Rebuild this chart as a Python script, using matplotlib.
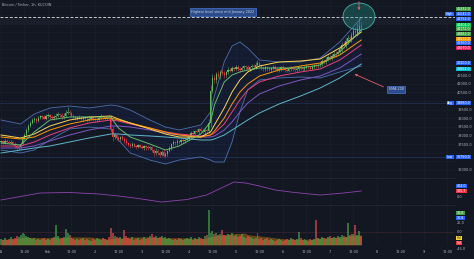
import numpy as np
import pandas as pd
import matplotlib
matplotlib.use("Agg")
import matplotlib.pyplot as plt
from matplotlib.patches import Ellipse
from matplotlib.transforms import blended_transform_factory

# ---------------- data ----------------
title = "Bitcoin / Tether, 1h, KUCOIN"
first_open = 37600
closes = [
    37650, 37580, 37700, 37620, 37560, 37640, 37520, 37380, 37250, 37330,
    37520, 37800, 38050, 38300, 38560, 38720, 38880, 38950, 38860, 39010,
    39120, 39050, 38980, 39100, 39200, 39080, 38990, 39050, 39150, 39250,
    39180, 39060, 39120, 39300, 39350, 39280, 39150, 39050, 38980, 39080,
    39020, 38940, 39040, 38970, 38900, 38980, 39060, 38950, 38870, 38920,
    39010, 39100, 39050, 38990, 39060, 39000, 38350, 37900, 38000, 37850,
    37780, 37900, 37820, 37700, 37560, 37450, 37380, 37480, 37400, 37330,
    37420, 37350, 37290, 37380, 37310, 37250, 37300, 37150, 36980, 37100,
    37000, 36880, 37050, 36820, 36950, 37100, 37250, 37480, 37620, 37550,
    37680, 37600, 37720, 37650, 37760, 37820, 37900, 38150, 38080, 38260,
    38200, 38350, 38280, 38200, 38320, 38250, 38700, 40600, 41350, 41200,
    41550, 41420, 41700, 41600, 41480, 41650, 41820, 41750, 41900, 41850,
    41980, 41880, 41800, 41920, 42010, 41940, 41860, 41950, 42050, 41980,
    42100, 42200, 42050, 41920, 41850, 41940, 41880, 41800, 41900, 41980,
    41870, 41780, 41860, 41950, 41900, 41820, 41750, 41840, 41930, 41860,
    41790, 41880, 41960, 41900, 41830, 41920, 42010, 41950, 41880, 41970,
    42060, 42000, 42080, 42150, 42300, 42250, 42400, 42550, 42480, 42620,
    42750, 42700, 42850, 43000, 43250, 43180, 43450, 43650, 43580, 43820,
    44050, 43950, 44200, 44350, 44250,
]
wick_up = [
    80, 60, 120, 70, 90, 110, 60, 80, 50, 100,
    90, 120, 80, 140, 100, 90, 130, 110, 80, 120,
    90, 70, 110, 130, 80, 60, 100, 120, 140, 90,
    70, 110, 160, 200, 300, 120, 80, 100, 90, 70,
    110, 80, 60, 100, 90, 120, 70, 80, 110, 90,
    100, 130, 80, 70, 90, 110, 200, 180, 120, 90,
    110, 80, 100, 90, 130, 70, 90, 110, 80, 60,
    100, 80, 120, 90, 70, 110, 60, 90, 80, 150,
    100, 120, 90, 140, 110, 80, 130, 90, 100, 80,
    120, 70, 90, 110, 80, 130, 100, 90, 140, 80,
    110, 90, 120, 80, 100, 90, 250, 300, 200, 150,
    120, 180, 90, 140, 110, 80, 130, 100, 120, 90,
    110, 80, 100, 130, 90, 70, 120, 100, 80, 110,
    150, 200, 120, 90, 80, 110, 70, 100, 90, 120,
    80, 100, 90, 70, 110, 80, 120, 90, 100, 80,
    110, 90, 70, 120, 80, 100, 130, 90, 80, 110,
    100, 120, 90, 130, 110, 150, 120, 100, 140, 110,
    150, 120, 130, 200, 160, 140, 180, 150, 120, 170,
    200, 250, 300, 520, 200,
]
wick_dn = [
    70, 90, 60, 110, 80, 70, 100, 120, 140, 80,
    100, 60, 90, 70, 110, 80, 60, 90, 120, 70,
    80, 110, 90, 60, 100, 120, 80, 70, 90, 110,
    90, 80, 100, 70, 60, 110, 90, 120, 80, 100,
    70, 90, 110, 80, 100, 60, 90, 120, 80, 70,
    90, 70, 100, 110, 80, 90, 150, 200, 100, 120,
    90, 110, 80, 120, 100, 90, 110, 80, 100, 120,
    80, 100, 90, 110, 130, 80, 100, 120, 200, 90,
    110, 130, 80, 70, 100, 120, 90, 80, 110, 90,
    80, 100, 120, 90, 80, 70, 100, 110, 90, 120,
    80, 100, 90, 110, 120, 90, 100, 200, 150, 180,
    140, 100, 120, 90, 130, 110, 80, 100, 90, 110,
    80, 120, 100, 90, 110, 130, 80, 100, 90, 120,
    100, 80, 110, 130, 90, 100, 120, 80, 110, 90,
    120, 90, 80, 100, 110, 130, 90, 80, 100, 120,
    90, 100, 120, 80, 110, 90, 80, 120, 100, 90,
    110, 80, 100, 90, 120, 100, 130, 90, 110, 120,
    100, 130, 90, 120, 150, 110, 130, 160, 120, 140,
    150, 180, 160, 200, 220,
]
volume = [
    6, 5, 7, 5, 6, 8, 6, 7, 9, 8,
    10, 12, 11, 9, 8, 7, 6, 7, 5, 6,
    5, 6, 7, 5, 6, 5, 7, 8, 20, 9,
    6, 7, 8, 16, 12, 10, 7, 6, 5, 6,
    5, 6, 7, 5, 6, 5, 4, 6, 5, 7,
    6, 5, 7, 6, 5, 8, 17, 12, 9, 8,
    7, 8, 6, 15, 9, 7, 6, 8, 5, 6,
    7, 5, 6, 8, 6, 7, 9, 11, 8, 9,
    7, 8, 9, 7, 8, 6, 7, 6, 5, 6,
    5, 7, 6, 5, 6, 7, 6, 8, 5, 7,
    6, 8, 7, 6, 9, 10, 35, 12, 14, 11,
    12, 10, 11, 15, 10, 9, 11, 10, 12, 9,
    10, 8, 9, 11, 8, 7, 9, 8, 7, 6,
    7, 12, 6, 7, 5, 6, 7, 5, 6, 5,
    4, 5, 6, 5, 4, 5, 6, 5, 7, 6,
    5, 6, 13, 7, 5, 6, 5, 4, 6, 5,
    6, 25, 7, 6, 8, 7, 6, 8, 9, 7,
    8, 7, 9, 8, 10, 9, 8, 22, 10, 11,
    11, 20, 10, 14, 9,
]

# indicator lines sampled from the chart (hour index -> price)
line_hours = [0, 10, 17, 25, 35, 45, 56, 60, 66, 76, 84, 91, 102, 107, 109,
              114, 118, 122, 126, 132, 142, 153, 163, 173, 184]
ma_green = [37560, 37444, 38198, 38894, 39068, 39068, 39068, 38430, 37908, 37502,
            37154, 37386, 38082, 38778, 39764, 41098, 41504, 41678, 41794, 41910,
            41910, 41910, 42084, 42838, 44114]
ma_yellow = [38024, 37850, 38082, 38546, 38894, 39068, 39126, 38952, 38720, 38372,
             38082, 37908, 37908, 38198, 38604, 39590, 40518, 41214, 41678, 42026,
             42258, 42316, 42432, 43070, 43998]
ma_orange = [37908, 37792, 37908, 38314, 38662, 38894, 39010, 38894, 38720, 38430,
             38198, 38024, 37908, 38024, 38256, 39010, 39822, 40518, 40982, 41446,
             41794, 42026, 42200, 42664, 43534]
ma_red = [37386, 37386, 37618, 38024, 38430, 38720, 38894, 38836, 38662, 38430,
          38198, 38082, 37966, 38024, 38140, 38662, 39358, 40054, 40634, 41098,
          41446, 41678, 41852, 42374, 43244]
ma_purple = [37270, 37270, 37386, 37676, 38024, 38314, 38546, 38546, 38488, 38314,
             38140, 38024, 37908, 37908, 37966, 38314, 38778, 39358, 39880, 40402,
             40866, 41214, 41446, 41910, 42722]
ma_teal = [36980, 37154, 37270, 37386, 37618, 37850, 38082, 38082, 38024, 37966,
           37908, 37850, 37734, 37734, 37792, 38024, 38314, 38604, 38894, 39300,
           39822, 40286, 40750, 41330, 42142]
bb_upper = [38894, 38662, 39242, 39590, 39706, 39590, 39764, 39706, 39474, 38894,
            38488, 38314, 38604, 39358, 40286, 42258, 43186, 43418, 43070, 42374,
            42258, 42258, 42490, 43418, 44810]
bb_lower = [37154, 36980, 37154, 37734, 38372, 38488, 38372, 37734, 36980, 36574,
            36342, 36574, 36748, 36574, 36458, 36458, 37618, 39358, 40634, 41214,
            41330, 41388, 41330, 41678, 42026]

osc_hours = [0, 10, 20, 35, 50, 60, 70, 82, 95, 105, 112, 119, 125, 132, 140, 150, 163, 175, 184]
osc_vals = [100, 170, 240, 250, 220, 180, 130, 60, 110, 200, 330, 460, 440, 380, 300, 250, 200, 240, 280]

time_tick_hours = [0, 12, 24, 36, 48, 60, 72, 84, 96, 108, 120, 132, 144, 156, 168, 180, 192, 204, 216, 228]
time_tick_labels = ["31", "12:00", "Feb", "12:00", "2", "12:00", "3", "12:00", "4", "12:00",
                    "5", "12:00", "6", "12:00", "7", "12:00", "8", "12:00", "9", "12:00"]
price_ticks = [36000, 36500, 37000, 37500, 38000, 38500, 39000, 39500, 40000, 40500,
               41000, 41500, 42000, 42500, 43000, 43500, 44000, 44500, 45000, 45500]

high_price = 44870
avg_price = 39880
low_price = 36750
tag_prices = [45332, 45042, 44752, 44404, 44172, 43882, 43592, 43360, 43070, 42200, 41852]
tag_colors = ["#43a047", "#2962ff", "#2962ff", "#00c853", "#43a047", "#43a047",
              "#ff9800", "#2962ff", "#e91e63", "#2962ff", "#00bcd4"]

# ---------------- layout helpers ----------------
W, H = 474, 259
BG = "#131722"
GRID = "#1b1f2b"
TXT = "#b2b5be"
FS = 2.5
TFS = 2.3


def rect(x0, y0, x1, y1):
    return [x0 / W, 1 - y1 / H, (x1 - x0) / W, (y1 - y0) / H]


def hx(x):  # pixel x -> hour
    return (x - 1) / 1.958


def py(y):  # pixel y -> price in main pane
    return 45854 - 58 * y


fig = plt.figure(figsize=(W / 100, H / 100), dpi=100, facecolor=BG)
ax = fig.add_axes(rect(0, 0, 455, 178))
ax_ind = fig.add_axes(rect(0, 178, 455, 205), sharex=ax)
ax_vol = fig.add_axes(rect(0, 205, 455, 245), sharex=ax)

for a in (ax, ax_ind, ax_vol):
    a.set_facecolor(BG)
    for s in a.spines.values():
        s.set_visible(False)
    for th in time_tick_hours:
        a.axvline(th, color=GRID, lw=0.5, zorder=0)
ax.set_xlim(hx(0), hx(455))
ax.set_ylim(py(178), py(0))
ax_ind.set_ylim(0, 540)
ax_vol.set_ylim(0, 40)
for a in (ax_ind, ax_vol):
    a.spines["top"].set_visible(True)
    a.spines["top"].set_color("#262a36")
    a.spines["top"].set_linewidth(0.5)

# price axis (tick labels hidden where a coloured tag covers them)
occupied = tag_prices + [45042, avg_price, low_price]
ax.yaxis.tick_right()
ax.set_yticks(price_ticks)
ax.set_yticklabels([f"{p:.1f}" if min(abs(p - q) for q in occupied) > 330 else ""
                    for p in price_ticks])
ax.tick_params(axis="y", length=0, pad=1.6, labelsize=FS, labelcolor=TXT)
for p in price_ticks:
    ax.axhline(p, color=GRID, lw=0.5, zorder=0)
ax.tick_params(axis="x", length=0, labelbottom=False)
ax_ind.tick_params(axis="both", length=0, labelbottom=False, labelleft=False)
ax_vol.tick_params(axis="y", length=0, labelleft=False)
ax_vol.set_xticks(time_tick_hours)
ax_vol.set_xticklabels(time_tick_labels)
ax_vol.tick_params(axis="x", length=0, pad=3.3, labelsize=FS, labelcolor=TXT)

# ---------------- main pane ----------------
hours = np.arange(len(closes))
c = np.array(closes, float)
o = np.concatenate([[first_open], c[:-1]])
hi = np.maximum(o, c) + np.array(wick_up)
lo = np.minimum(o, c) - np.array(wick_dn)
up = c >= o
ccol = np.where(up, "#5cb85c", "#f23645")

ax.axhspan(py(25), py(18), color="#1a1e2b", lw=0, zorder=0.5)
ax.axhline(high_price, color="#c8cad0", lw=0.7, dashes=(3, 1.8), zorder=1)
ax.axhline(avg_price, color="#3a5ca8", lw=0.4, alpha=0.5, zorder=1)
ax.axhline(low_price, color="#3a5ca8", lw=0.4, alpha=0.6, zorder=1)

ax.fill_between(line_hours, bb_lower, bb_upper, color="#2962ff", alpha=0.07, lw=0, zorder=1)
ax.plot(line_hours, bb_upper, color="#4f6fae", lw=0.6, zorder=2)
ax.plot(line_hours, bb_lower, color="#4f6fae", lw=0.6, zorder=2)

ax.vlines(hours, lo, hi, colors=ccol, lw=0.4, zorder=3)
ax.bar(hours, np.maximum(np.abs(c - o), 15), bottom=np.minimum(o, c), width=0.65,
       color=ccol, lw=0, zorder=3)

ax.plot(line_hours, ma_teal, color="#5fb6c8", lw=0.7, zorder=4)
ax.plot(line_hours, ma_purple, color="#7e57c2", lw=0.7, zorder=4)
ax.plot(line_hours, ma_red, color="#ec407a", lw=0.7, zorder=4)
ax.plot(line_hours, ma_orange, color="#ff9800", lw=0.7, zorder=4)
ax.plot(line_hours, ma_yellow, color="#ffd54f", lw=0.7, zorder=4)
ax.plot(line_hours, ma_green, color="#66bb6a", lw=0.7, zorder=4)

# annotations
ax.add_patch(Ellipse((hx(359), py(16.5)), width=32 / 1.958, height=27 * 58,
                     fc=(0.15, 0.6, 0.55, 0.35), ec=(0.3, 0.75, 0.7, 0.9), lw=0.6, zorder=5))
ax.annotate("", xy=(hx(359), py(13)), xytext=(hx(359), py(-1)),
            arrowprops=dict(arrowstyle="-|>", color="#e35d6a", lw=0.6, mutation_scale=3),
            annotation_clip=False, zorder=6)
ax.annotate("", xy=(hx(352), py(73)), xytext=(hx(386), py(88)),
            arrowprops=dict(arrowstyle="-|>", color="#e35d6a", lw=0.6, mutation_scale=3),
            zorder=6)
ax.text(hx(223), py(12), "Highest level since mid January 2022", fontsize=2.4,
        color="#d1d4dc", ha="center", va="center", zorder=7,
        bbox=dict(boxstyle="square,pad=0.5", fc="#2d4c8c", ec="#4a78d0", lw=0.5))
ax.text(hx(396), py(89.5), "EMA 200", fontsize=2.4, color="#d1d4dc",
        ha="center", va="center", zorder=7,
        bbox=dict(boxstyle="square,pad=0.5", fc="#2d4c8c", ec="#4a78d0", lw=0.5))

fig.text(2 / W, 1 - 5 / H, title, fontsize=FS, color=TXT, va="center", ha="left")


def tag(a, y, text, fc, tc="white", x=1.004, ha="left"):
    a.text(x, y, text, transform=blended_transform_factory(a.transAxes, a.transData),
           fontsize=TFS, color=tc, ha=ha, va="center", clip_on=False, zorder=10,
           bbox=dict(boxstyle="square,pad=0.12", fc=fc, ec="none"))


for p, col in zip(tag_prices, tag_colors):
    tag(ax, p, f"{p:.1f}", col)
tag(ax, 45042, "High", "#2962ff", x=0.996, ha="right")
tag(ax, avg_price, f"{avg_price:.1f}", "#2962ff")
tag(ax, avg_price, "Avg", "#2962ff", x=0.996, ha="right")
tag(ax, low_price, f"{low_price:.1f}", "#2962ff")
tag(ax, low_price, "Low", "#2962ff", x=0.996, ha="right")

# ---------------- indicator pane ----------------
ax_ind.plot(osc_hours, osc_vals, color="#8e44ad", lw=0.6, zorder=3)
tag(ax_ind, 380, "404.0", "#2962ff")
tag(ax_ind, 280, "305.7", "#f23645")
tri = blended_transform_factory(ax_ind.transAxes, ax_ind.transData)
ax_ind.text(1.004, 170, "0.0", transform=tri, fontsize=FS, color=TXT, ha="left",
            va="center", clip_on=False)

# ---------------- volume pane ----------------
vol = np.array(volume, float)
vol_ma = pd.Series(vol).rolling(20, min_periods=1).mean()
ax_vol.fill_between(hours, 0, vol_ma, color="#ff9800", alpha=0.35, lw=0, zorder=1)
vcol = np.where(up, "#4caf50", "#ef5350")
ax_vol.bar(hours, vol, width=1.0, color=vcol, alpha=0.6, lw=0, zorder=2)
ax_vol.axhline(13, color="#3a2530", lw=0.5, zorder=0.5)
tag(ax_vol, 32, "30.8", "#43a047")
tag(ax_vol, 27, "30.8", "#2962ff")
tr = blended_transform_factory(ax_vol.transAxes, ax_vol.transData)
ax_vol.text(1.004, 21.5, "25.0", transform=tr, fontsize=FS, color=TXT, ha="left", va="center", clip_on=False)
ax_vol.text(1.004, 13, "0.0", transform=tr, fontsize=FS, color=TXT, ha="left", va="center", clip_on=False)
tag(ax_vol, 7, "Vol", "#fdd835", tc="#131722")
tag(ax_vol, 2, "Vol", "#f23645")
ax_vol.text(1.004, -4.5, "-45.0", transform=tr, fontsize=FS, color=TXT, ha="left", va="center", clip_on=False)

fig.savefig("out.png", dpi=100, facecolor=BG)
